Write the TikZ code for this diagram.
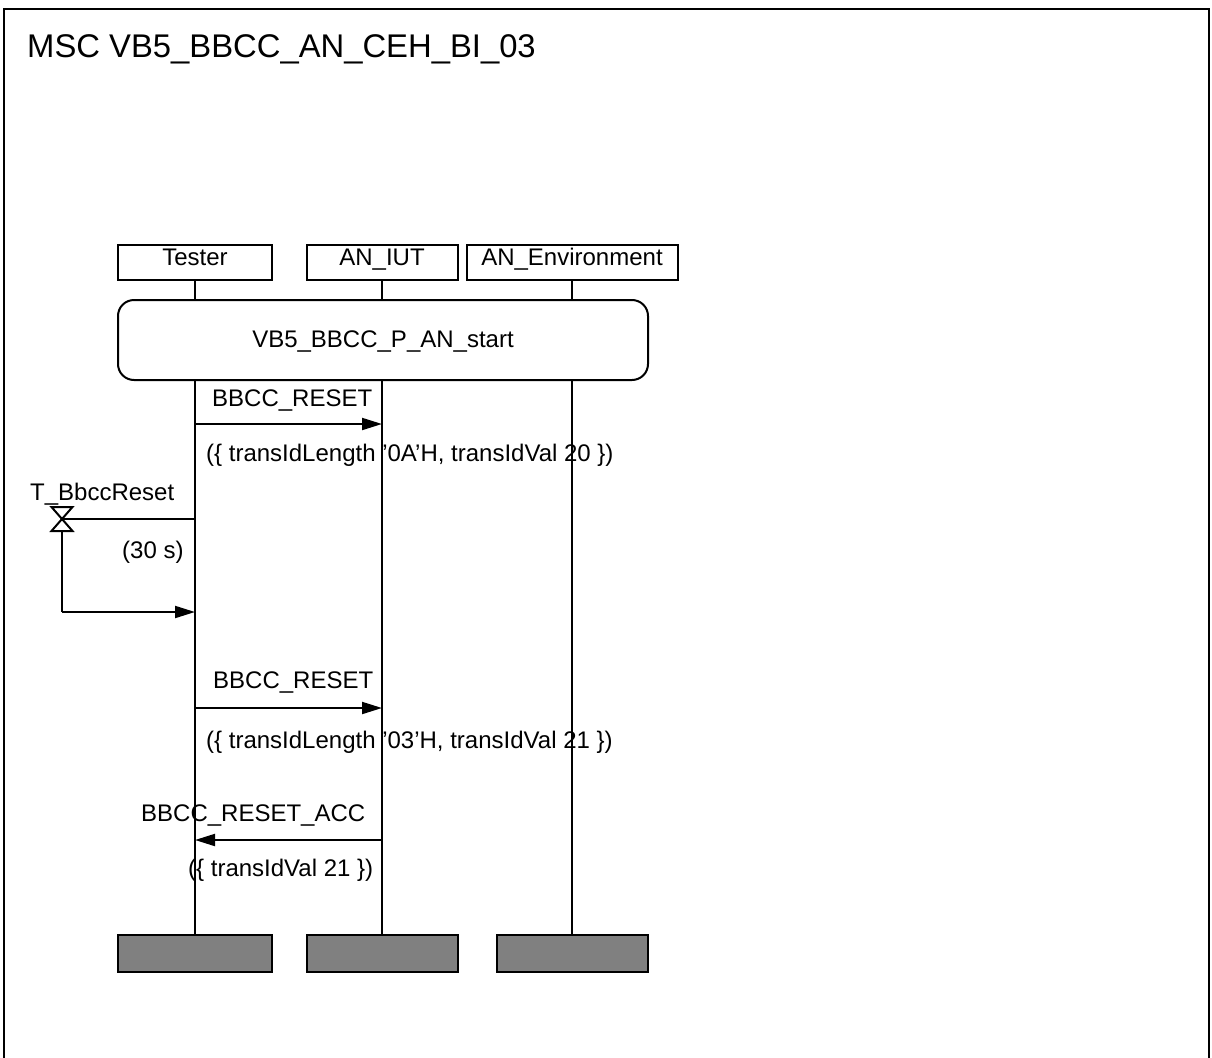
\documentclass[tikz,border=0pt]{standalone}
\usepackage{fontspec}
\setmainfont{Liberation Sans}
\usetikzlibrary{arrows.meta}
\begin{document}
\begin{tikzpicture}[x=1pt,y=-1pt,
  every node/.style={font=\fontsize{24}{28}\selectfont, inner sep=0pt},
  ln/.style={line width=2pt},
  instbox/.style={draw, line width=2pt, minimum height=35pt, text height=12pt, text depth=6pt},
  endbox/.style={draw, line width=2pt, fill=black!50, minimum height=37pt},
  msg/.style={line width=2pt, -{Triangle[length=20pt,width=12pt]}},
  lbl/.style={anchor=base west}]
\useasboundingbox (0,0) rectangle (1212,1057);
\draw[line width=2pt] (4,9) rectangle (1209,1090);
\node[anchor=base west, font=\fontsize{32.8}{38}\selectfont] (title) at (27,58) {MSC VB5\_BBCC\_AN\_CEH\_BI\_03};
% instance heads
\node[instbox, minimum width=154pt] (hT) at (195,262.5) {Tester};
\node[instbox, minimum width=151pt] (hI) at (382,262.5) {AN\_IUT};
\node[instbox, minimum width=211pt] (hE) at (572,262.5) {AN\_Environment};
% reference
\node[draw, line width=2pt, rounded corners=16pt, minimum width=530pt, minimum height=80pt, text height=17pt, text depth=2pt] (ref) at (383,340) {VB5\_BBCC\_P\_AN\_start};
% end boxes
\node[endbox, minimum width=154pt] (eT) at (195,953.5) {};
\node[endbox, minimum width=151pt] (eI) at (382,953.5) {};
\node[endbox, minimum width=151pt] (eE) at (572,953.5) {};
% lifelines
\draw[ln] (hT.south) -- (hT.south |- ref.north);
\draw[ln] (hI.south) -- (hI.south |- ref.north);
\draw[ln] (hE.south) -- (hE.south |- ref.north);
\draw[ln] (eT.north |- ref.south) -- (eT.north);
\draw[ln] (eI.north |- ref.south) -- (eI.north);
\draw[ln] (eE.north |- ref.south) -- (eE.north);
% message 1
\coordinate (m1a) at (195,424);
\coordinate (m1b) at (382,424);
\draw[msg] (m1a) -- (m1b);
\node[lbl] (m1l) at (212,406) {BBCC\_RESET};
\node[lbl] (m1p) at (206,461) {(\{ transIdLength ’0A’H, transIdVal 20 \})};
% timer
\coordinate (tm) at (62,519);
\coordinate (tset) at (195,519);
\coordinate (tbot) at (62,612);
\coordinate (tout) at (195,612);
\draw[ln] (tm) -- (tset);
\draw[ln, fill=white, line join=miter] (51.5,507) -- (72.5,507) -- (51.5,531) -- (72.5,531) -- cycle;
\draw[ln] (62,531) -- (tbot);
\draw[msg] (tbot) -- (tout);
\node[lbl] (tname) at (30,500) {T\_BbccReset};
\node[lbl] (tdur) at (122,558) {(30 s)};
% message 2
\coordinate (m2a) at (195,708);
\coordinate (m2b) at (382,708);
\draw[msg] (m2a) -- (m2b);
\node[lbl] (m2l) at (213,688) {BBCC\_RESET};
\node[lbl] (m2p) at (206,748) {(\{ transIdLength ’03’H, transIdVal 21 \})};
% message 3
\coordinate (m3a) at (382,840);
\coordinate (m3b) at (195,840);
\draw[msg] (m3a) -- (m3b);
\node[lbl] (m3l) at (141,821) {BBCC\_RESET\_ACC};
\node[lbl] (m3p) at (188,876) {(\{ transIdVal 21 \})};
\end{tikzpicture}
\end{document}
